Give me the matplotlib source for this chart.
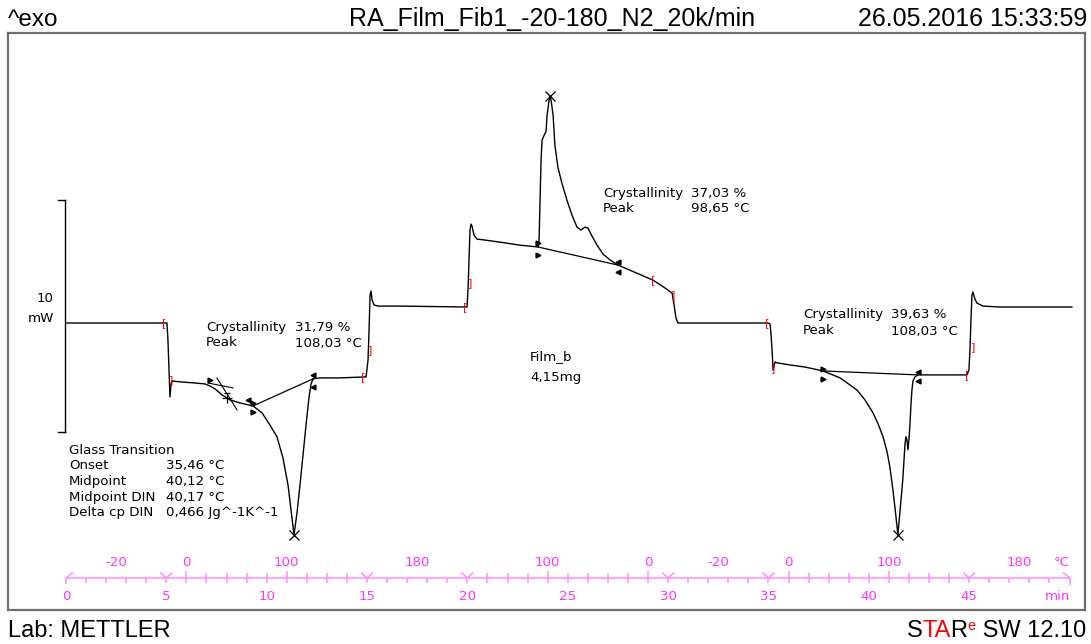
import matplotlib
matplotlib.use("Agg")
import matplotlib.pyplot as plt
from matplotlib.transforms import blended_transform_factory

# ---------------- data (time in min, heat flow in mW, start level = 0) ----------------
time_min = [0.0, 4.98, 5.03, 5.08, 5.13, 5.18, 5.23, 5.28, 5.68, 6.43, 6.93, 7.17, 7.42, 7.77,
            8.17, 8.67, 9.32, 9.77, 10.16, 10.51, 10.81, 11.06, 11.21, 11.36, 11.51, 11.66,
            11.81, 11.96, 12.11, 12.21, 12.31, 12.66, 13.65, 14.80, 14.95, 15.05, 15.10, 15.15,
            15.20, 15.25, 15.35, 15.55, 16.64, 19.93, 19.98, 20.03, 20.08, 20.13, 20.18, 20.23,
            20.33, 20.48, 20.88, 21.62, 22.62, 23.52, 23.57, 23.62, 23.67, 23.72, 23.82, 23.92,
            23.97, 24.07, 24.12, 24.17, 24.27, 24.36, 24.51, 24.71, 24.96, 25.21, 25.46, 25.66,
            25.86, 26.01, 26.21, 26.46, 26.76, 27.11, 27.50, 28.10, 29.25, 29.85, 30.20, 30.30,
            30.39, 30.49, 31.59, 34.98, 35.08, 35.13, 35.18, 35.23, 35.28, 35.33, 35.43, 36.07,
            36.82, 37.72, 38.57, 39.06, 39.41, 39.81, 40.21, 40.46, 40.71, 40.91, 41.05, 41.20,
            41.30, 41.40, 41.45, 41.50, 41.55, 41.65, 41.70, 41.80, 41.85, 41.90, 41.95, 42.00,
            42.05, 42.10, 42.15, 42.20, 42.30, 42.45, 43.55, 44.89, 44.99, 45.04, 45.09, 45.14,
            45.19, 45.29, 45.39, 45.69, 46.54, 50.12]
heat_flow_mw = [0.0, 0.0, 0.0, -0.73, -2.03, -3.19, -2.67, -2.50, -2.54, -2.59, -2.63, -2.72, -2.84, -3.10,
                -3.32, -3.45, -3.58, -3.88, -4.40, -4.91, -5.82, -6.98, -8.06, -9.14, -8.19, -6.98,
                -5.69, -4.40, -3.19, -2.63, -2.41, -2.37, -2.37, -2.33, -2.33, -1.59, -0.30, 1.21,
                1.38, 0.99, 0.78, 0.73, 0.73, 0.69, 0.69, 1.42, 2.72, 4.01, 4.27, 4.18,
                3.79, 3.62, 3.58, 3.49, 3.36, 3.28, 3.58, 5.30, 7.03, 7.89, 8.10, 8.28,
                8.97, 9.61, 9.78, 9.61, 8.97, 7.67, 6.72, 6.03, 5.30, 4.66, 4.14, 4.01,
                4.14, 4.09, 3.75, 3.36, 2.97, 2.72, 2.50, 2.28, 1.85, 1.51, 1.29, 0.78,
                0.22, 0.0, 0.0, 0.0, -0.04, -0.52, -1.16, -2.03, -1.85, -1.68, -1.72, -1.81,
                -1.90, -2.07, -2.37, -2.67, -2.89, -3.32, -3.88, -4.35, -4.91, -5.56, -6.21, -7.20,
                -7.93, -8.71, -9.14, -8.66, -8.19, -7.20, -6.68, -5.26, -4.91, -5.04, -5.47, -5.04,
                -4.40, -3.53, -2.89, -2.50, -2.33, -2.24, -2.24, -2.24, -2.03, -1.16, 0.13, 1.21,
                1.34, 1.03, 0.86, 0.73, 0.69, 0.69]

# integration baselines of the three peaks
baseline_t = [[9.32, 12.31], [23.52, 27.50], [37.72, 42.45]]
baseline_hf = [[-3.58, -2.41], [3.28, 2.50], [-2.07, -2.24]]
# peak positions
peak_t = [11.36, 24.12, 41.45]
peak_hf = [-9.14, 9.78, -9.14]
# integration limit flags
limit_left_t = [9.32, 23.52, 37.72]
limit_left_hf_up = [-3.45, 3.45, -1.98]
limit_left_hf_dn = [-3.84, 2.93, -2.42]
limit_right_t = [12.31, 27.50, 42.45]
limit_right_hf_up = [-2.24, 2.63, -2.11]
limit_right_hf_dn = [-2.76, 2.20, -2.50]
# glass transition evaluation
gt_tangent1_t = [7.08, 8.32]
gt_tangent1_hf = [-2.59, -2.80]
gt_tangent2_t = [7.52, 8.52]
gt_tangent2_hf = [-2.37, -3.75]
gt_mid_t = 8.02
gt_mid_hf = -3.24
gt_limits_t = [7.17, 9.07]
gt_limits_hf = [-2.46, -3.32]
# red segment brackets
bracket_t = [4.88, 5.23, 14.80, 15.15, 19.88, 20.13, 29.25, 30.25, 34.93, 35.23, 44.89, 45.19]
bracket_hf = [0.0, -2.46, -2.33, -1.17, 0.69, 1.73, 1.86, 1.21, 0.0, -1.94, -2.24, -1.04]
bracket_chr = ['[', ']'] * 6
# scale bar (10 mW)
scale_bar_t = -0.05
scale_bar_hf = [-4.70, 5.31]

# time / temperature axis
time_ticks = [0, 5, 10, 15, 20, 25, 30, 35, 40, 45]
segment_bounds = [5, 15, 20, 30, 35, 45]
dynamic_segments = [(5, 15), (20, 30), (35, 45)]
temp_labels = ['-20', '0', '100', '180', '100', '0', '-20', '0', '100', '180']
temp_label_t = [2.5, 6, 11, 17.5, 24, 29, 32.5, 36, 41, 47.5]
temp_tick_t = [6, 11, 24, 29, 36, 41]
axis_end_t = 50.02

# ---------------- figure ----------------
W, H = 1091, 644
fig = plt.figure(figsize=(W / 100, H / 100), dpi=100)
L, T, R, B = 8, 33, 1085, 610
X0, PXM = 66, 20.07       # pixel of t=0, px per min
Y0, PXW = 323, 23.17      # pixel of hf=0, px per mW
ax = fig.add_axes([L / W, 1 - B / H, (R - L) / W, (B - T) / H])
ax.set_xlim((L - X0) / PXM, (R - X0) / PXM)
ax.set_ylim((Y0 - B) / PXW, (Y0 - T) / PXW)
ax.set_xticks([]); ax.set_yticks([])
for s in ax.spines.values():
    s.set_color('#6e6e6e'); s.set_linewidth(1.6)

def fy(py):
    return (B - py) / (B - T)

def fx(px):
    return px / W

def fyf(py):
    return 1 - py / H

FS = 9.6
FONT = 'DejaVu Sans'

ax.plot(time_min, heat_flow_mw, color='black', lw=1.0)
for bt, bh in zip(baseline_t, baseline_hf):
    ax.plot(bt, bh, color='black', lw=0.9)
ax.plot(peak_t, peak_hf, ls='none', marker='x', ms=7, mew=0.9, color='black')
ax.plot(limit_left_t, limit_left_hf_up, ls='none', marker='>', ms=3.5, color='black')
ax.plot(limit_left_t, limit_left_hf_dn, ls='none', marker='>', ms=3.5, color='black')
ax.plot(limit_right_t, limit_right_hf_up, ls='none', marker='<', ms=3.5, color='black')
ax.plot(limit_right_t, limit_right_hf_dn, ls='none', marker='<', ms=3.5, color='black')
ax.plot(gt_tangent1_t, gt_tangent1_hf, color='black', lw=0.8)
ax.plot(gt_tangent2_t, gt_tangent2_hf, color='black', lw=0.8)
ax.plot([gt_mid_t], [gt_mid_hf], marker='+', ms=7, mew=0.9, color='black')
ax.plot([gt_mid_t], [gt_mid_hf + 0.22], marker='_', ms=5, mew=0.9, color='black')
ax.plot(gt_limits_t[:1], gt_limits_hf[:1], ls='none', marker='>', ms=3.5, color='black')
ax.plot(gt_limits_t[1:], gt_limits_hf[1:], ls='none', marker='<', ms=3.5, color='black')
for bt, bh, bc in zip(bracket_t, bracket_hf, bracket_chr):
    ax.text(bt, bh, bc, color='#ff0000', fontsize=8, ha='center', va='center', family=FONT)

# scale bar
ax.plot([scale_bar_t, scale_bar_t], scale_bar_hf, color='black', lw=1.0)
for h in scale_bar_hf:
    ax.plot([scale_bar_t - 0.35, scale_bar_t], [h, h], color='black', lw=1.0)
fig.text(fx(45), fyf(299), '10', ha='center', va='center', fontsize=FS, family=FONT)
fig.text(fx(41), fyf(318), 'mW', ha='center', va='center', fontsize=FS, family=FONT)

# annotations
def block(x_lab, x_val, y_first, rows, step=16):
    for i, (a, b) in enumerate(rows):
        y = y_first + i * step
        fig.text(fx(x_lab), fyf(y), a, ha='left', va='center', fontsize=FS, family=FONT)
        if b:
            fig.text(fx(x_val), fyf(y), b, ha='left', va='center', fontsize=FS, family=FONT)

block(206, 295, 327, [('Crystallinity', '31,79 %'), ('Peak', '108,03 °C')])
block(603, 691, 193, [('Crystallinity', '37,03 %'), ('Peak', '98,65 °C')])
block(803, 891, 315, [('Crystallinity', '39,63 %'), ('Peak', '108,03 °C')])
block(530, 600, 357, [('Film_b', ''), ('4,15mg', '')], step=20)
block(69, 166, 450, [('Glass Transition', ''), ('Onset', '35,46 °C'), ('Midpoint', '40,12 °C'),
                     ('Midpoint DIN', '40,17 °C'), ('Delta cp DIN', '0,466 Jg^-1K^-1')], step=15.7)

# time / temperature axis (magenta)
MAGL = '#ff8cff'
MAGT = '#ff33ff'
tr = blended_transform_factory(ax.transData, ax.transAxes)
kw = dict(transform=tr, color=MAGL, lw=1.1, clip_on=False, solid_capstyle='butt')
ya = fy(578)
ax.plot([0, axis_end_t], [ya, ya], **kw)
dpx = 1 / PXM
for m in range(1, 50):
    if m in segment_bounds:
        continue
    if m in temp_tick_t:
        top = 571
    elif any(a < m < b for a, b in dynamic_segments):
        top = 573
    else:
        top = 578
    ax.plot([m, m], [fy(top), fy(583)], **kw)
for sb in segment_bounds:
    ax.plot([sb - 6 * dpx, sb, sb + 6 * dpx], [fy(572.5), fy(578), fy(572.5)], **kw)
    ax.plot([sb, sb], [fy(578), fy(583)], **kw)
ax.plot([0, 0], [fy(578), fy(584)], **kw)
ax.plot([0, 7 * dpx], [fy(578), fy(572.5)], **kw)
ax.plot([axis_end_t, axis_end_t], [fy(578), fy(585)], **kw)
ax.plot([axis_end_t - 7 * dpx, axis_end_t], [fy(572.5), fy(578)], **kw)
for t in time_ticks:
    ax.text(t, fy(597), str(t), transform=tr, color=MAGT, fontsize=FS, ha='center', va='center', family=FONT)
for t, lab in zip(temp_label_t, temp_labels):
    ax.text(t, fy(562), lab, transform=tr, color=MAGT, fontsize=FS, ha='center', va='center', family=FONT)
ax.text(axis_end_t, fy(597), 'min', transform=tr, color=MAGT, fontsize=FS, ha='right', va='center', family=FONT)
ax.text(axis_end_t, fy(562), '°C', transform=tr, color=MAGT, fontsize=FS, ha='right', va='center', family=FONT)

# header
HF_FONT = 'Liberation Sans'
fig.text(fx(8), fyf(26), '^exo', ha='left', va='baseline', fontsize=17.5, family=HF_FONT)
fig.text(fx(552), fyf(26), 'RA_Film_Fib1_-20-180_N2_20k/min', ha='center', va='baseline', fontsize=18, family=HF_FONT)
fig.text(fx(1087), fyf(26), '26.05.2016 15:33:59', ha='right', va='baseline', fontsize=18, family=HF_FONT)

# footer
axo = fig.add_axes([0, 0, 1, 1])
axo.axis('off')
fig.text(fx(8), fyf(637), 'Lab: METTLER', ha='left', va='baseline', fontsize=17, family=HF_FONT)
t1 = axo.text(fx(1086), fyf(637), ' SW 12.10', ha='right', va='baseline', fontsize=17,
              family=HF_FONT, transform=axo.transAxes)
t2 = axo.annotate('e', xy=(0, 0.42), xycoords=t1, ha='right', va='bottom', fontsize=10.5,
                  family=HF_FONT, color='red')
t3 = axo.annotate('R', xy=(0, 0), xycoords=(t2, t1), ha='right', va='bottom', fontsize=17,
                  family=HF_FONT, color='black')
t4 = axo.annotate('TA', xy=(0, 0), xycoords=t3, ha='right', va='bottom', fontsize=17,
                  family=HF_FONT, color='red')
t5 = axo.annotate('S', xy=(0, 0), xycoords=t4, ha='right', va='bottom', fontsize=17,
                  family=HF_FONT, color='black')

fig.savefig('out.png', dpi=100)
